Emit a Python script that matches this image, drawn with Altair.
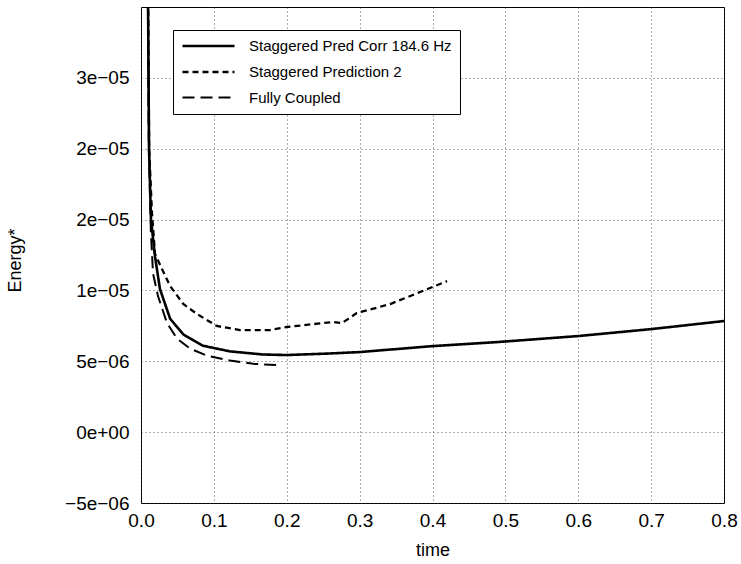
import altair as alt
import pandas as pd

# ---- data ----
series_names = ["Staggered Pred Corr 184.6 Hz", "Staggered Prediction 2", "Fully Coupled"]

pc_time = [0.0092, 0.011, 0.0137, 0.0192, 0.026, 0.040, 0.058, 0.085, 0.122, 0.167, 0.200,
           0.259, 0.300, 0.400, 0.490, 0.600, 0.700, 0.800]
pc_energy = [3.4e-05, 2.0e-05, 1.5e-05, 1.24e-05, 1.01e-05, 8.0e-06, 6.9e-06, 6.1e-06, 5.7e-06,
             5.48e-06, 5.44e-06, 5.55e-06, 5.65e-06, 6.07e-06, 6.36e-06, 6.78e-06, 7.27e-06, 7.84e-06]

p2_time = [0.0094, 0.0112, 0.015, 0.0192, 0.0288, 0.040, 0.058, 0.077, 0.104, 0.136, 0.177, 0.200,
           0.263, 0.276, 0.296, 0.342, 0.400, 0.420]
p2_energy = [3.4e-05, 2.0e-05, 1.55e-05, 1.257e-05, 1.151e-05, 1.031e-05, 9.04e-06, 8.33e-06,
             7.49e-06, 7.2e-06, 7.2e-06, 7.42e-06, 7.77e-06, 7.7e-06, 8.4e-06, 9.04e-06,
             1.024e-05, 1.066e-05]

fc_time = [0.0090, 0.0108, 0.0135, 0.0165, 0.0233, 0.0357, 0.0494, 0.0672, 0.0906, 0.122, 0.154, 0.188]
fc_energy = [3.4e-05, 2.0e-05, 1.42e-05, 1.12e-05, 9.6e-06, 7.7e-06, 6.6e-06, 5.9e-06,
             5.4e-06, 5.05e-06, 4.82e-06, 4.73e-06]

x_ticks = [0.0, 0.1, 0.2, 0.3, 0.4, 0.5, 0.6, 0.7, 0.8]
y_ticks = [-5e-06, 0.0, 5e-06, 1e-05, 1.5e-05, 2e-05, 2.5e-05]
y_tick_labels = ["\u22125e\u221206", "0e+00", "5e\u221206", "1e\u221205", "2e\u221205", "2e\u221205", "3e\u221205"]

rows = []
for name, ts, es in zip(series_names, [pc_time, p2_time, fc_time], [pc_energy, p2_energy, fc_energy]):
    for t, e in zip(ts, es):
        rows.append({"series": name, "time": t, "energy": e})
df = pd.DataFrame(rows)

# label expression (nested ternary from the tick lists)
expr = "'" + y_tick_labels[-1] + "'"
for v, lab in reversed(list(zip(y_ticks[:-1], y_tick_labels[:-1]))):
    expr = f"datum.value < {v + 2.5e-06} ? '{lab}' : " + expr

FONT = "Liberation Sans"

chart = alt.Chart(df).mark_line(clip=True).encode(
    x=alt.X("time:Q",
            scale=alt.Scale(domain=[0, 0.8], nice=False, zero=False),
            axis=alt.Axis(title="time", values=x_ticks, format=".1f", labelFlush=False,
                          titleY=47, titleBaseline="middle")),
    y=alt.Y("energy:Q",
            scale=alt.Scale(domain=[-5e-06, 3e-05], nice=False, zero=False),
            axis=alt.Axis(title="Energy*", values=y_ticks, labelExpr=expr, labelFlush=False,
                          titleX=-126, titleY=253, titleBaseline="middle", titleAlign="center")),
    color=alt.Color("series:N",
                    scale=alt.Scale(domain=series_names, range=["black", "black", "black"]),
                    legend=alt.Legend(title=None)),
    strokeDash=alt.StrokeDash("series:N",
                              scale=alt.Scale(domain=series_names,
                                              range=[[1, 0], [6, 4], [12, 6]]),
                              legend=alt.Legend(title=None)),
    strokeWidth=alt.StrokeWidth("series:N",
                                scale=alt.Scale(domain=series_names, range=[2.6, 2.0, 2.6]),
                                legend=alt.Legend(title=None)),
    order=alt.Order("time:Q"),
    detail="series:N",
).properties(
    width=583,
    height=496,
    autosize=alt.AutoSizeParams(type="none"),
    padding={"left": 141, "top": 7, "right": 17, "bottom": 61},
).configure_view(
    stroke="black", strokeWidth=1
).configure_axis(
    domain=False, ticks=False, grid=True,
    gridColor="#333333", gridDash=[1, 3], gridWidth=0.8, gridOpacity=1,
    labelFont=FONT, labelFontSize=19, labelColor="black",
    titleFont=FONT, titleFontSize=18, titleColor="black", titleFontWeight="normal",
).configure_axisX(
    labelPadding=8
).configure_axisY(
    labelPadding=12
).configure_legend(
    orient="none", legendX=32, legendY=23,
    strokeColor="black", padding=8, fillColor="white",
    symbolType="M-1,0H7", symbolSize=169, symbolStrokeColor="black",
    labelFont=FONT, labelFontSize=15, labelColor="black", labelLimit=0,
    labelOffset=52, rowPadding=10,
)

chart.save("out.html", embed_options={"renderer": "svg", "actions": False})
